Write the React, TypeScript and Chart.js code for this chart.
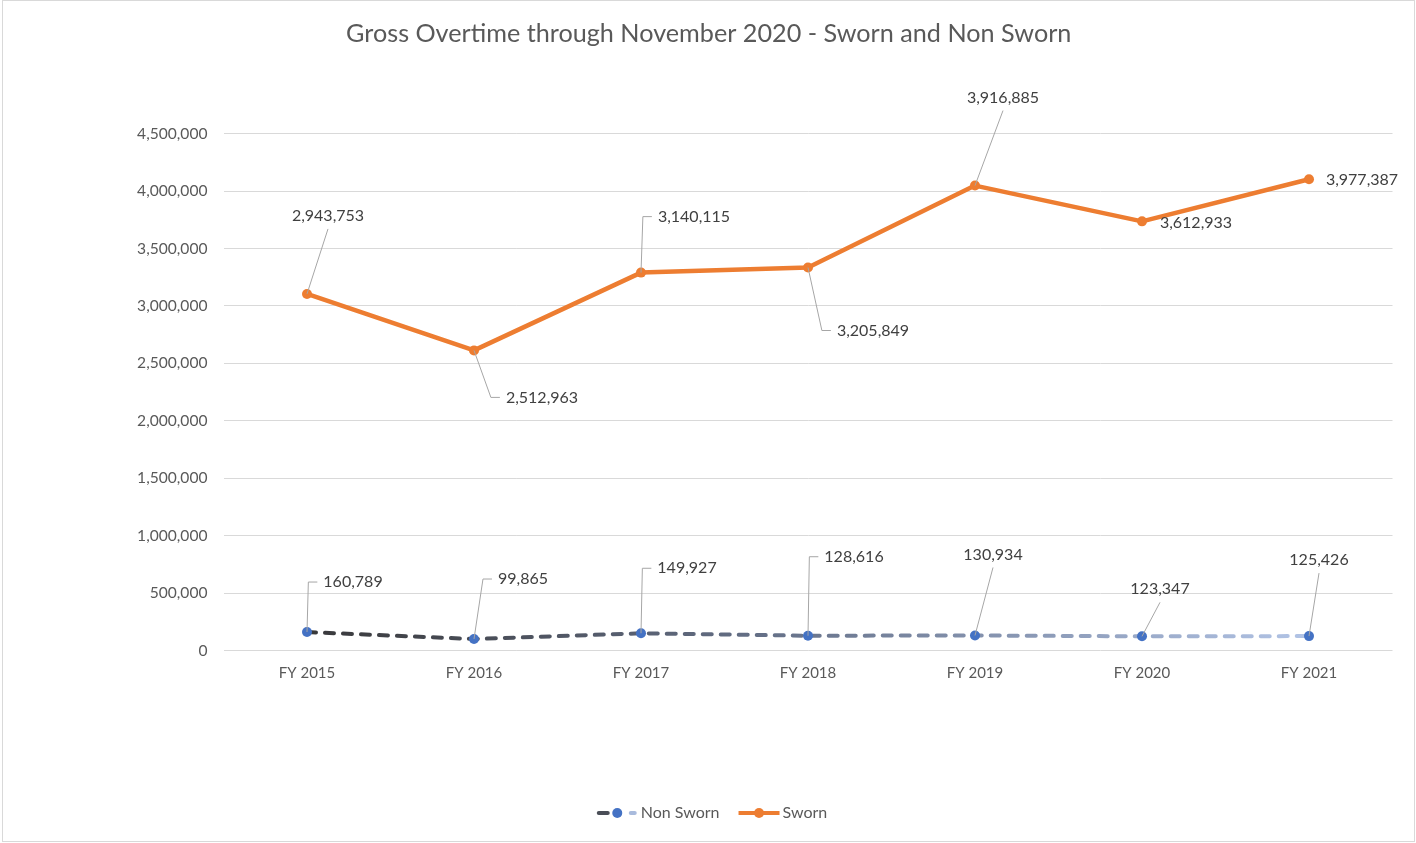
import React, { useEffect, useRef } from "react";
import { Chart, registerables } from "chart.js";

Chart.register(...registerables);

// ---- Data ----
const categories = ["FY 2015", "FY 2016", "FY 2017", "FY 2018", "FY 2019", "FY 2020", "FY 2021"];
const nonSworn = [160789, 99865, 149927, 128616, 130934, 123347, 125426];
const sworn = [2943753, 2512963, 3140115, 3205849, 3916885, 3612933, 3977387];
const yMin = 0;
const yMax = 4500000;
const yStep = 500000;
const titleText = "Gross Overtime through November 2020 - Sworn and Non Sworn";
const seriesNames = ["Non Sworn", "Sworn"];

// ---- Styling / layout (not data) ----
const FONT = "Lato, 'Open Sans', sans-serif";
const W = 1416;
const H = 843;
const ORANGE = "#ED7D31";
const BLUE = "#4472C4";
const GRID = "#D9D9D9";
const TEXT = "#595959";
const LABEL_TEXT = "#404040";
const LEADER = "#A6A6A6";

// label centre offsets from each point (pixels)
const nonSwornLabelOffsets = [[46, -50], [49, -60], [46, -65], [46, -79], [18, -81], [18, -47], [10, -76]];
const swornLabelOffsets = [[21, -78], [68, 47], [53, -56], [65, 63], [28, -88], [54, 1], [53, 1]];

const fmt = (v: number) => v.toLocaleString("en-US");

function nonSwornGradient(ctx: CanvasRenderingContext2D, x0: number, x1: number) {
  const g = ctx.createLinearGradient(x0, 0, x1, 0);
  g.addColorStop(0, "#38383A");
  g.addColorStop(0.45, "#646F86");
  g.addColorStop(1, "#B2C4E6");
  return g;
}

const labelPlugin = {
  id: "leaderLabels",
  afterDatasetsDraw(chart: any) {
    const ctx: CanvasRenderingContext2D = chart.ctx;
    ctx.save();
    ctx.font = `16px ${FONT}`;
    ctx.textBaseline = "middle";
    ctx.textAlign = "center";
    chart.data.datasets.forEach((ds: any, di: number) => {
      const meta = chart.getDatasetMeta(di);
      const offsets: number[][] = ds.labelOffsets;
      const values: number[] = ds.data;
      meta.data.forEach((pt: any, i: number) => {
        const text = fmt(values[i]);
        const px = pt.x;
        const py = pt.y;
        const lx = px + offsets[i][0];
        const ly = py + offsets[i][1];
        const tw = ctx.measureText(text).width;
        const left = lx - tw / 2;
        ctx.strokeStyle = LEADER;
        ctx.lineWidth = 1;
        if (px >= left && px <= left + tw) {
          const ey = ly > py ? ly - 13 : ly + 13;
          const d = Math.hypot(lx - px, ey - py);
          if (d > 15) {
            ctx.beginPath();
            ctx.moveTo(px, py);
            ctx.lineTo(lx, ey);
            ctx.stroke();
          }
        } else {
          const ex = left - 15;
          const d = Math.hypot(ex - px, ly - py);
          if (d > 15) {
            ctx.beginPath();
            ctx.moveTo(px, py);
            ctx.lineTo(ex, ly);
            ctx.lineTo(left - 6, ly);
            ctx.stroke();
          }
        }
        ctx.fillStyle = LABEL_TEXT;
        ctx.fillText(text, lx, ly);
      });
    });
    ctx.restore();
  },
};

const framePlugin = {
  id: "frameLegend",
  afterDraw(chart: any) {
    const ctx: CanvasRenderingContext2D = chart.ctx;
    ctx.save();
    // border
    ctx.strokeStyle = GRID;
    ctx.lineWidth = 1;
    ctx.strokeRect(2.5, 0.5, W - 4, H - 2);

    // legend
    ctx.font = `16px ${FONT}`;
    ctx.textBaseline = "middle";
    ctx.textAlign = "left";
    const iconW = 41;
    const gapText = 3;
    const gapItem = 19;
    const w0 = ctx.measureText(seriesNames[0]).width;
    const w1 = ctx.measureText(seriesNames[1]).width;
    const total = iconW + gapText + w0 + gapItem + iconW + gapText + w1;
    let x = W / 2 - total / 2 + 4;
    const y = 813;

    // Non Sworn icon
    ctx.lineWidth = 4;
    ctx.lineCap = "round";
    ctx.strokeStyle = "#4A4E57";
    ctx.beginPath();
    ctx.moveTo(x + 2, y);
    ctx.lineTo(x + 11, y);
    ctx.stroke();
    ctx.strokeStyle = "#A9BBDD";
    ctx.beginPath();
    ctx.moveTo(x + 34, y);
    ctx.lineTo(x + 38, y);
    ctx.stroke();
    ctx.fillStyle = BLUE;
    ctx.beginPath();
    ctx.arc(x + 20.5, y, 5, 0, Math.PI * 2);
    ctx.fill();
    ctx.fillStyle = TEXT;
    ctx.fillText(seriesNames[0], x + iconW + gapText, y);
    x += iconW + gapText + w0 + gapItem;

    // Sworn icon
    ctx.lineCap = "butt";
    ctx.strokeStyle = ORANGE;
    ctx.lineWidth = 4;
    ctx.beginPath();
    ctx.moveTo(x, y);
    ctx.lineTo(x + iconW, y);
    ctx.stroke();
    ctx.fillStyle = ORANGE;
    ctx.beginPath();
    ctx.arc(x + 20.5, y, 5, 0, Math.PI * 2);
    ctx.fill();
    ctx.fillStyle = TEXT;
    ctx.fillText(seriesNames[1], x + iconW + gapText, y);
    ctx.restore();
  },
};

export default function App() {
  const ref = useRef<HTMLCanvasElement | null>(null);

  useEffect(() => {
    if (!ref.current) return;
    const chart = new Chart(ref.current, {
      type: "line",
      data: {
        labels: categories,
        datasets: [
          {
            label: seriesNames[0],
            data: nonSworn,
            labelOffsets: nonSwornLabelOffsets,
            borderColor: (c: any) => {
              const ch = c.chart;
              const xs = ch.scales && ch.scales.x;
              if (!ch.chartArea || !xs) return "#66728A";
              const x0 = xs.getPixelForValue(0);
              const x1 = xs.getPixelForValue(categories.length - 1);
              if (!isFinite(x0) || !isFinite(x1) || x1 <= x0) return "#66728A";
              return nonSwornGradient(ch.ctx, x0, x1);
            },
            borderWidth: 4,
            borderDash: [9, 9],
            borderCapStyle: "round",
            pointBackgroundColor: BLUE,
            pointBorderColor: BLUE,
            pointRadius: 5,
            pointBorderWidth: 0,
            tension: 0,
            fill: false,
          } as any,
          {
            label: seriesNames[1],
            data: sworn,
            labelOffsets: swornLabelOffsets,
            borderColor: ORANGE,
            borderWidth: 4.5,
            pointBackgroundColor: ORANGE,
            pointBorderColor: ORANGE,
            pointRadius: 5,
            pointBorderWidth: 0,
            tension: 0,
            fill: false,
            borderJoinStyle: "round",
          } as any,
        ],
      },
      options: {
        responsive: false,
        animation: false,
        layout: { padding: { left: 25, right: 23.5, top: 0, bottom: 152.5 } },
        plugins: {
          legend: { display: false },
          tooltip: { enabled: false },
          title: {
            display: true,
            text: titleText,
            color: TEXT,
            font: { family: FONT, size: 25.2, weight: "normal" as any, lineHeight: 1.2 },
            padding: { top: 18.9, bottom: 84.5 },
          },
        },
        scales: {
          x: {
            offset: true,
            grid: { display: false, drawTicks: false },
            border: { display: false },
            ticks: { color: TEXT, font: { family: FONT, size: 15 }, padding: 14, maxRotation: 0 },
            afterFit: (s: any) => {
              s.height = 40;
            },
          },
          y: {
            stacked: true,
            min: yMin,
            max: yMax,
            grid: { color: GRID, lineWidth: 1, drawTicks: false },
            border: { display: false },
            ticks: {
              stepSize: yStep,
              color: TEXT,
              font: { family: FONT, size: 15.6 },
              padding: 16,
              callback: (v: any) => fmt(Number(v)),
            },
            afterFit: (s: any) => {
              s.width = 198.5;
            },
          },
        },
      },
      plugins: [labelPlugin, framePlugin],
    });
    return () => chart.destroy();
  }, []);

  return (
    <div style={{ position: "fixed", left: 0, top: 0, width: W, height: H, background: "#fff" }}>
      <canvas ref={ref} width={W} height={H} style={{ display: "block", width: W, height: H }} />
    </div>
  );
}
